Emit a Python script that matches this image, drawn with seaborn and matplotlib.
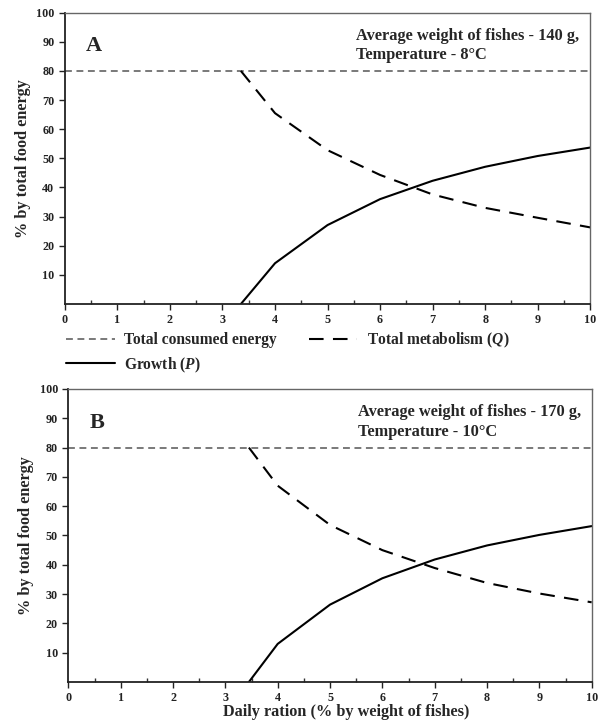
import matplotlib
matplotlib.use("Agg")
import matplotlib.pyplot as plt
import seaborn as sns
import pandas as pd
from matplotlib.ticker import MultipleLocator

sns.set_theme(style="white")
plt.rcParams['font.family'] = ['Liberation Serif', 'DejaVu Serif']
plt.rcParams['font.weight'] = 'bold'
plt.rcParams['mathtext.fontset'] = 'custom'
plt.rcParams['mathtext.it'] = 'Liberation Serif:bold:italic'
plt.rcParams['mathtext.rm'] = 'Liberation Serif:bold'

# ---- data ----
ration_A = [3.35, 4, 5, 6, 7, 8, 9, 10]
growth_A = [0, 14.0, 27.1, 36.0, 42.3, 47.1, 50.8, 53.7]
metab_A = [80, 65.5, 52.8, 44.3, 37.6, 33.0, 29.6, 26.3]

ration_B = [3.45, 4, 5, 6, 7, 8, 9, 10]
growth_B = [0, 13.0, 26.4, 35.4, 41.8, 46.6, 50.2, 53.2]
metab_B = [80, 67.0, 53.6, 45.0, 38.9, 33.8, 30.2, 27.2]

consumed_x = [0, 10]
consumed_y = [80, 80]

panel_labels = ["A", "B"]
notes = ["Average weight of fishes - 140 g,\nTemperature - 8°C",
         "Average weight of fishes - 170 g,\nTemperature - 10°C"]
x_ticks = list(range(0, 11))
y_ticks = list(range(10, 101, 10))

fig = plt.figure(figsize=(6.01, 7.23), dpi=100)
axA = fig.add_axes([0.108, 0.5795, 0.874, 0.4030])
axB = fig.add_axes([0.1137, 0.0567, 0.8708, 0.4053])

panels = [(axA, ration_A, growth_A, metab_A), (axB, ration_B, growth_B, metab_B)]
handles = None
for i, (ax, rx, g, m) in enumerate(panels):
    dcons = pd.DataFrame({"x": consumed_x, "y": consumed_y})
    dg = pd.DataFrame({"x": rx, "y": g})
    dm = pd.DataFrame({"x": rx, "y": m})
    sns.lineplot(data=dcons, x="x", y="y", ax=ax, color="#555555", lw=1.1,
                 label="Total consumed energy")
    ax.lines[-1].set_dashes([4.5, 3])
    sns.lineplot(data=dm, x="x", y="y", ax=ax, color="black", lw=1.5,
                 label="Total metabolism ($\\mathit{Q}$)")
    ax.lines[-1].set_dashes([7, 4.5])
    sns.lineplot(data=dg, x="x", y="y", ax=ax, color="black", lw=1.5,
                 label="Growth ($\\mathit{P}$)")
    if i == 0:
        handles, labels = ax.get_legend_handles_labels()
    ax.get_legend().remove()

    ax.set_xlim(0, 10)
    ax.set_ylim(0, 100)
    ax.set_xticks(x_ticks)
    ax.set_yticks(y_ticks)
    ax.xaxis.set_minor_locator(MultipleLocator(0.5))
    ax.tick_params(axis='both', which='major', direction='out', length=4,
                   width=1, labelsize=8.7, colors='#222222', bottom=True, left=True)
    ax.tick_params(axis='x', which='major', pad=3)
    ax.tick_params(axis='x', which='minor', direction='in', length=3, width=1,
                   bottom=True, colors='#333333')
    for lab in ax.get_xticklabels() + ax.get_yticklabels():
        lab.set_fontweight('bold')
    for s in ['left', 'bottom']:
        ax.spines[s].set_color('#222222')
        ax.spines[s].set_linewidth(1.3)
    for s in ['top', 'right']:
        ax.spines[s].set_color('#666666')
        ax.spines[s].set_linewidth(1.0)
    ax.set_ylabel("% by total food energy", fontsize=11.7, fontweight='bold', labelpad=4)
    ax.set_xlabel("")
    ax.text(0.4, 88.5, panel_labels[i], fontsize=16, fontweight='bold', va='center', ha='left')
    ax.text(5.54, 94.8, notes[i], fontsize=11.8, fontweight='bold', va='top', ha='left',
            linespacing=1.3)

axB.set_xlabel("Daily ration (% by weight of fishes)", fontsize=11.7, fontweight='bold', labelpad=0)
axB.xaxis.set_label_coords(0.531, -0.074)

order = [0, 2, 1]
fig.legend([handles[k] for k in order], [labels[k] for k in order],
           ncol=2, loc='upper left', bbox_to_anchor=(0.087, 0.562), frameon=False,
           prop={'size': 11.2, 'weight': 'bold'}, handlelength=3.1, handletextpad=0.6,
           columnspacing=2.1, labelspacing=0.45)

fig.savefig("out.png", dpi=100)
